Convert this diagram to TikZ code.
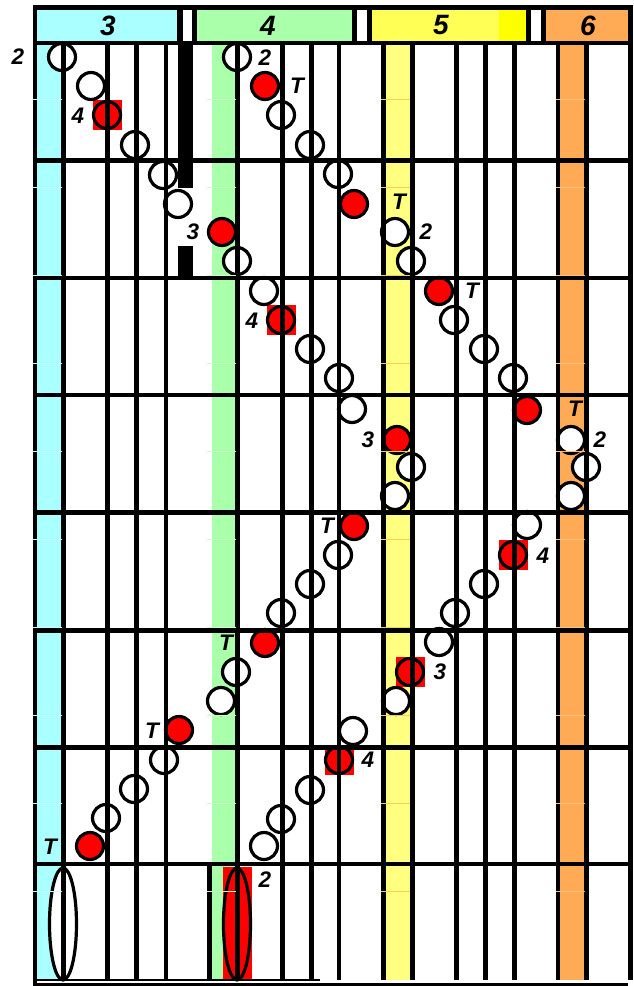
\documentclass[tikz,border=0pt]{standalone}
\usepackage{fontspec}
\setmainfont{Liberation Sans}
\usetikzlibrary{shapes.geometric}
\definecolor{cyanc}{HTML}{AAFFFF}
\definecolor{greenc}{HTML}{AAFFAA}
\definecolor{yellowc}{HTML}{FFFF80}
\definecolor{yellowh}{HTML}{FFFF55}
\definecolor{yellowb}{HTML}{FFFF00}
\definecolor{orangec}{HTML}{FFAA55}
\definecolor{cyant}{HTML}{C8FFFF}
\definecolor{greent}{HTML}{C8FFC8}
\definecolor{yellowt}{HTML}{F0D060}
\definecolor{oranget}{HTML}{F8C080}
\begin{document}
\begin{tikzpicture}[x=1pt,y=-1pt,
  ring/.style={circle,draw=black,line width=3.2pt,minimum size=27pt,inner sep=0pt},
  wbell/.style={ring,fill=white},
  rbell/.style={ring,fill=red},
  oval/.style={ellipse,draw=black,line width=3.2pt,minimum width=27pt,minimum height=112pt,inner sep=0pt},
  lab/.style={font=\bfseries\itshape\fontsize{22.5}{22.5}\selectfont,inner sep=0pt},
  hdr/.style={font=\bfseries\itshape\fontsize{28}{28}\selectfont,inner sep=0pt},
  gridline/.style={line width=4.5pt,black},
  tick/.style={line width=0.8pt}
]
\useasboundingbox (0,0) rectangle (634,986);
\fill[white] (0,0) rectangle (634,986);
% column fills
\fill[cyanc] (36.5,45) rectangle (61.5,980);
\fill[greenc] (211.7,45) rectangle (236,980);
\fill[yellowc] (385.5,45) rectangle (410.5,980);
\fill[orangec] (560,45) rectangle (584.5,980);
% red squares
\foreach \x/\y in {107/114.5,281/320,513/554.5,410/672,339/760}
  \fill[red] (\x-14.5,\y-15) rectangle (\x+14.5,\y+15);
\fill[red] (223,867) rectangle (252,980);
% bells, path A
\foreach \x/\y/\s [count=\i] in {62/57/wbell,91/86/wbell,107/115/rbell,135/145/wbell,163/175/wbell,178/204/wbell,222/232/rbell,237/261/wbell,264/291/wbell,281/320/rbell,310/349/wbell,339/378/wbell,352/409/wbell,397/440/rbell,411/467/wbell,395/496/wbell,354/526/rbell,338/555/wbell,310/584/wbell,281/613/wbell,265/643/rbell,236/672/wbell,221/701/wbell,179/730/rbell,164/760/wbell,134/789/wbell,106/818/wbell,90/846/rbell}
  \node[\s] (a\i) at (\x,\y) {};
% bells, path B
\foreach \x/\y/\s [count=\i] in {237/57/wbell,265/86/rbell,281/115/wbell,310/145/wbell,338/174/wbell,354/204/rbell,395/232/wbell,411/261/wbell,439/291/rbell,454/320/wbell,484/349/wbell,513/378/wbell,527/410/rbell,571/440/wbell,586/467/wbell,571/496/wbell,527/525/wbell,513/555/rbell,484/584/wbell,455/613/wbell,439/642/wbell,410/672/rbell,396/701/wbell,353/731/wbell,339/760/rbell,310/790/wbell,281/819/wbell,264/846/wbell}
  \node[\s] (b\i) at (\x,\y) {};
\node[oval,fill=white] (ea) at (63,924) {};
\node[oval,fill=red] (eb) at (237,924) {};
% grid
\foreach \x in {63.3,107.7,136.7,166,237.5,282.5,311.7,339,383.5,412.5,456.5,485.5,514.5,558,586.5}
  \draw[gridline] (\x,45) -- (\x,980);
\draw[gridline] (209.5,864) -- (209.5,980);
\foreach \y in {160.5,278,395,512.5,630.5,747.5,864}
  \draw[gridline] (33,\y) -- (630,\y);
\fill[black] (178,45) rectangle (193,188);
\fill[black] (178,246) rectangle (193,278);
% frame and header
\fill[black] (32.5,5) rectangle (633,45);
\fill[black] (32.5,5) rectangle (36.5,986);
\fill[black] (628,5) rectangle (633,980);
\fill[black] (32.5,983) rectangle (628,986);
\fill[black] (32.5,978.5) rectangle (320,980.7);
\fill[cyanc] (36.7,10) rectangle (176.7,40.7);
\fill[white] (182.7,10) rectangle (191.7,40.7);
\fill[greenc] (196.7,10) rectangle (352,40.7);
\fill[white] (357,10) rectangle (367,40.7);
\fill[yellowh] (372,10) rectangle (499,40.7);
\fill[yellowb] (499,10) rectangle (526,40.7);
\fill[white] (530.5,10) rectangle (541,40.7);
\fill[orangec] (546,10) rectangle (628,40.7);
\node[hdr] (h3) at (108,25.5) {3};
\node[hdr] (h4) at (268,25.5) {4};
\node[hdr] (h5) at (441,25.5) {5};
\node[hdr] (h6) at (588,25.5) {6};
% ticks
\foreach \y in {99,187,275,363,451,539,627,715,803,891} {
  \draw[tick,cyant] (32,\y) -- (62,\y);
  \draw[tick,greent] (207,\y) -- (236,\y);
  \draw[tick,yellowt] (381,\y) -- (410,\y);
  \draw[tick,oranget] (555.5,\y) -- (584.5,\y);
}
% labels
\node[lab] (la1) at (18,57) {2};
\node[lab] (la2) at (78,116) {4};
\node[lab] (la3) at (193,232) {3};
\node[lab] (la4) at (252,321) {4};
\node[lab] (la5) at (368,440) {3};
\node[lab] (la6) at (327,526) {T};
\node[lab] (la7) at (226,643) {T};
\node[lab] (la8) at (152,731) {T};
\node[lab] (la9) at (50,847) {T};
\node[lab] (lb1) at (265,58) {2};
\node[lab] (lb2) at (297,86) {T};
\node[lab] (lb3) at (399,202) {T};
\node[lab] (lb4) at (426,232) {2};
\node[lab] (lb5) at (472,291) {T};
\node[lab] (lb6) at (575,409) {T};
\node[lab] (lb7) at (600,440) {2};
\node[lab] (lb8) at (543,556) {4};
\node[lab] (lb9) at (440,672) {3};
\node[lab] (lb10) at (368,760) {4};
\node[lab] (lb11) at (265,880) {2};
\end{tikzpicture}
\end{document}
